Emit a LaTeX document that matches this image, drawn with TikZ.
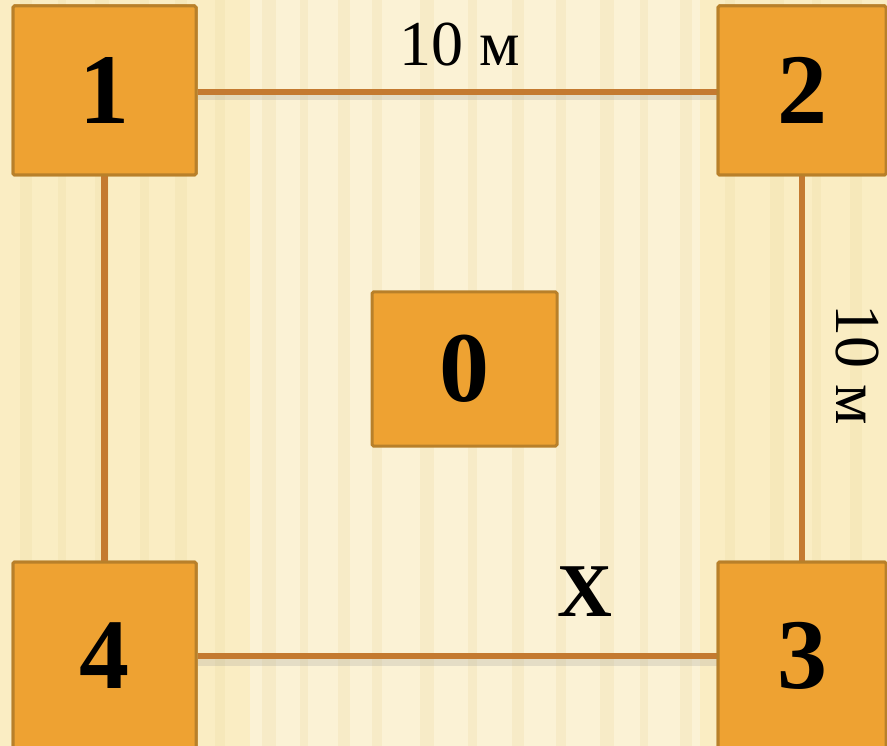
\documentclass[tikz,border=0pt]{standalone}
\usepackage{fontspec}
\setmainfont{Liberation Serif}
\definecolor{bg}{HTML}{FAEDC3}
\definecolor{bgdark}{HTML}{F0DDA8}
\definecolor{boxfill}{HTML}{EEA232}
\definecolor{boxline}{HTML}{B8802A}
\definecolor{conn}{HTML}{C47A30}
\tikzset{
  sq/.style={draw=boxline, line width=3pt, fill=boxfill, rounded corners=1.5pt,
    font=\fontsize{100}{100}\selectfont\bfseries, inner sep=0pt},
  link/.style={draw=conn, line width=6.5pt},
  shade/.style={draw=black!45, line width=8pt, opacity=0.2},
  lbl/.style={font=\fontsize{64}{64}\selectfont, inner sep=0pt}
}
\begin{document}
\begin{tikzpicture}[x=1pt,y=-1pt]
\useasboundingbox (0,0) rectangle (887,746);
\clip (0,0) rectangle (887,746);
\fill[bg] (0,0) rectangle (887,746);
\fill[white,opacity=0.3] (250,0) rectangle (700,746);
\foreach \x/\w in {20/12,58/8,95/14,140/9,175/12,215/10,262/14,300/8,338/12,372/10,420/14,468/9,512/12,556/10,600/14,640/8,680/12,725/10,770/14,812/9,850/12} {
  \fill[bgdark,opacity=0.3] (\x,0) rectangle (\x+\w,746);
}
% nodes
\node[sq, minimum width=183pt, minimum height=169pt] (n1) at (104.5,90.5) {1};
\node[sq, minimum width=168pt, minimum height=169pt] (n2) at (802,90.5) {2};
\node[sq, minimum width=168pt, minimum height=188pt] (n3) at (802,656) {3};
\node[sq, minimum width=183pt, minimum height=188pt] (n4) at (104.5,656) {4};
\node[sq, minimum width=185pt, minimum height=154pt] (n0) at (464.5,369) {0};
% shadows
\draw[shade] ([yshift=-6pt]n1.east) -- ([yshift=-6pt]n2.west);
\draw[shade] ([yshift=-6pt]n4.east) -- ([yshift=-6pt]n3.west);
% connectors
\draw[link] ([yshift=-1.5pt]n1.east) -- ([yshift=-1.5pt]n2.west);
\draw[link] (n1.south) -- (n4.north);
\draw[link] (n2.south) -- (n3.north);
\draw[link] (n4.east) -- (n3.west);
% redraw boxes on top of connector ends
\node[sq, minimum width=183pt, minimum height=169pt] at (104.5,90.5) {1};
\node[sq, minimum width=168pt, minimum height=169pt] at (802,90.5) {2};
\node[sq, minimum width=168pt, minimum height=188pt] at (802,656) {3};
\node[sq, minimum width=183pt, minimum height=188pt] at (104.5,656) {4};
% labels
\node[lbl] (t1) at (460,45) {10 м};
\node[lbl, rotate=-90] (t2) at (857,365) {10 м};
\node[font=\fontsize{76}{76}\selectfont\bfseries, inner sep=0pt] (tx) at (585,592) {X};
\end{tikzpicture}
\end{document}
